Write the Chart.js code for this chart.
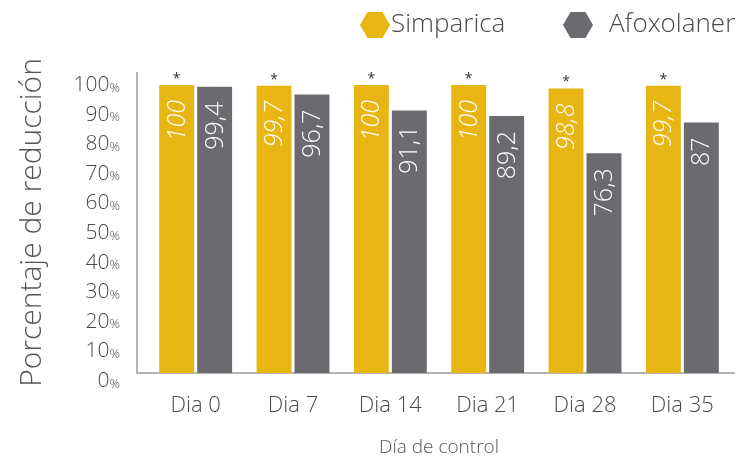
<!DOCTYPE html>
<html>
<head>
<meta charset="utf-8">
<script src="https://cdn.jsdelivr.net/npm/chart.js@4"></script>
<style>
  html, body { margin: 0; padding: 0; background: #fff; }
  #wrap { width: 750px; height: 462px; position: relative; }
</style>
</head>
<body>
<div id="wrap"><canvas id="chart"></canvas></div>
<script>
const days = ['Dia 0', 'Dia 7', 'Dia 14', 'Dia 21', 'Dia 28', 'Dia 35'];
const simparica = [100, 99.7, 100, 100, 98.8, 99.7];
const afoxolaner = [99.4, 96.7, 91.1, 89.2, 76.3, 87];
const yTicks = [0, 10, 20, 30, 40, 50, 60, 70, 80, 90, 100];

const FONT = "'Open Sans', sans-serif";
const TEXT = '#4a4a4a';
const YELLOW = '#e8b612';
const GRAY = '#6b6b6f';

function hexagon(ctx, cx, cy, w, h) {
  ctx.beginPath();
  ctx.moveTo(cx - w / 2, cy);
  ctx.lineTo(cx - w / 4, cy - h / 2);
  ctx.lineTo(cx + w / 4, cy - h / 2);
  ctx.lineTo(cx + w / 2, cy);
  ctx.lineTo(cx + w / 4, cy + h / 2);
  ctx.lineTo(cx - w / 4, cy + h / 2);
  ctx.closePath();
  ctx.fill();
}

// axis lines, custom y ticks, value labels, legend
const decor = {
  id: 'decor',
  beforeDatasetsDraw(chart) {
    const ctx = chart.ctx;
    const area = chart.chartArea;
    ctx.save();
    ctx.strokeStyle = '#b4b4b4';
    ctx.lineWidth = 2;
    ctx.beginPath();
    ctx.moveTo(area.left - 10, area.top);
    ctx.lineTo(area.left - 10, area.bottom);
    ctx.lineTo(area.right + 4, area.bottom);
    ctx.stroke();
    ctx.restore();
  },
  afterDatasetsDraw(chart) {
    const ctx = chart.ctx;
    const y = chart.scales.y;
    const area = chart.chartArea;
    ctx.save();

    // y tick labels: big number, small %
    ctx.fillStyle = TEXT;
    ctx.textBaseline = 'middle';
    yTicks.forEach(v => {
      const py = y.getPixelForValue(v) + (100 - v) * 0.08;
      const right = area.left - 27;
      ctx.font = '300 13px ' + FONT;
      ctx.textAlign = 'right';
      const pw = ctx.measureText('%').width;
      ctx.fillText('%', right, py + 3);
      ctx.font = '300 21px ' + FONT;
      ctx.fillText(String(v), right - pw, py);
    });

    // values inside the bars, rotated
    chart.data.datasets.forEach((ds, i) => {
      const meta = chart.getDatasetMeta(i);
      meta.data.forEach((bar, j) => {
        const label = String(ds.data[j]).replace('.', ',');
        ctx.save();
        ctx.translate(bar.x, bar.y + 15);
        ctx.rotate(-Math.PI / 2);
        ctx.fillStyle = '#ffffff';
        ctx.font = (i === 0 ? 'italic ' : '') + '300 25px ' + FONT;
        ctx.textAlign = 'right';
        ctx.textBaseline = 'middle';
        ctx.fillText(label, 0, 1);
        ctx.restore();
        if (i === 0) {
          ctx.fillStyle = '#333';
          ctx.font = '14px ' + FONT;
          ctx.textAlign = 'center';
          ctx.textBaseline = 'middle';
          ctx.fillText('*', bar.x, bar.y - 6);
        }
      });
    });

    // legend
    const items = [
      { ds: chart.data.datasets[0], hx: 375, tx: 391 },
      { ds: chart.data.datasets[1], hx: 578, tx: 609 }
    ];
    items.forEach(it => {
      ctx.fillStyle = it.ds.backgroundColor;
      hexagon(ctx, it.hx, 25, 30, 26);
      ctx.fillStyle = TEXT;
      ctx.font = '300 26px ' + FONT;
      ctx.textAlign = 'left';
      ctx.textBaseline = 'middle';
      ctx.fillText(it.ds.label, it.tx, 25);
    });
    ctx.restore();
  }
};

new Chart(document.getElementById('chart'), {
  type: 'bar',
  data: {
    labels: days,
    datasets: [
      { label: 'Simparica', data: simparica, backgroundColor: YELLOW },
      { label: 'Afoxolaner', data: afoxolaner, backgroundColor: GRAY }
    ]
  },
  options: {
    responsive: true,
    maintainAspectRatio: false,
    animation: false,
    layout: { padding: { top: 72, right: 19, left: 0, bottom: 0 } },
    categoryPercentage: 0.78,
    barPercentage: 0.92,
    plugins: {
      legend: { display: false },
      tooltip: { enabled: false }
    },
    scales: {
      x: {
        grid: { display: false },
        border: { display: false },
        ticks: { color: TEXT, font: { family: FONT, size: 22, weight: '300' }, padding: 12 },
        title: {
          display: true,
          text: 'Día de control',
          color: '#555',
          font: { family: FONT, size: 19, weight: '300' },
          padding: { top: 0, bottom: 3 }
        },
        afterFit(s) { s.height = 89; }
      },
      y: {
        min: 0,
        max: 104.5,
        grid: { display: false },
        border: { display: false },
        ticks: { display: false },
        title: {
          display: true,
          text: 'Porcentaje de reducción',
          color: '#555',
          font: { family: FONT, size: 30, weight: '300' },
          padding: { top: 14, bottom: 0 }
        },
        afterFit(s) { s.width = 147; }
      }
    }
  },
  plugins: [decor]
});
</script>
</body>
</html>
